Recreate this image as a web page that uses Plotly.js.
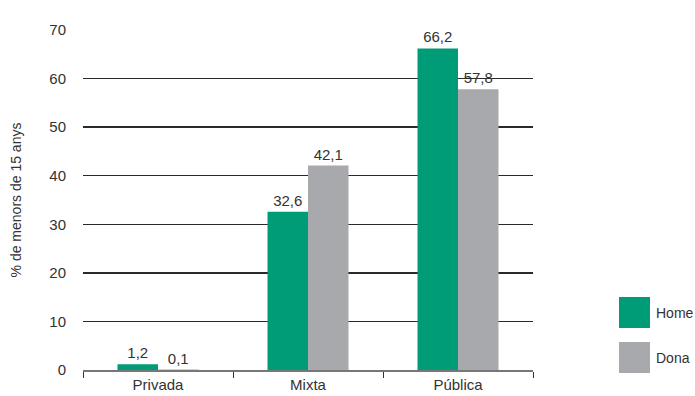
<!DOCTYPE html>
<html><head><meta charset="utf-8">
<script src="https://cdn.plot.ly/plotly-3.0.1.min.js"></script>
<style>body{margin:0;background:#fff}#c{width:695px;height:396px}</style>
</head><body><div id="c"></div>
<script>
var categories = ["Privada", "Mixta", "Pública"];
var homeValues = [1.2, 32.6, 66.2];
var donaValues = [0.1, 42.1, 57.8];
var seriesNames = ["Home", "Dona"];
var seriesColors = ["#009B77", "#A7A9AC"];
var yTicks = [0, 10, 20, 30, 40, 50, 60, 70];

var font = {family: "Liberation Sans, Arial, sans-serif", size: 15, color: "#333"};

function barTrace(name, vals, color) {
  return {
    type: "bar", name: name, x: categories, y: vals,
    marker: {color: color},
    text: vals, texttemplate: "%{y:.1f}", textposition: "outside",
    textfont: {family: font.family, size: 15, color: "#333"},
    cliponaxis: false, hoverinfo: "skip"
  };
}

var data = [
  barTrace(seriesNames[0], homeValues, seriesColors[0]),
  barTrace(seriesNames[1], donaValues, seriesColors[1])
];

var shapes = [], annotations = [];
seriesNames.forEach(function(n, i){
  var y0 = 297 + i*45;
  shapes.push({type:"rect", xref:"paper", yref:"paper",
    x0:(619-83)/450, x1:(650-83)/450,
    y0:(370-(y0+31))/340, y1:(370-y0)/340,
    fillcolor: seriesColors[i], line:{width:0}});
  annotations.push({xref:"paper", yref:"paper", x:(654-83)/450, y:(370-(y0+15.5))/340,
    text:n, showarrow:false, xanchor:"left", yanchor:"middle", font:{family:font.family,size:14,color:"#333"}});
});

var layout = {
  width: 695, height: 396,
  margin: {l: 83, r: 162, t: 30, b: 26},
  paper_bgcolor: "#fff", plot_bgcolor: "#fff",
  separators: ",.",
  font: font,
  showlegend: false,
  barmode: "group", bargap: 0.46, bargroupgap: 0,
  xaxis: {
    type: "category", showgrid: false, showline: true, linecolor: "#777", linewidth: 1.5,
    ticks: "outside", tickson: "boundaries", ticklen: 6, tickcolor: "#333", tickwidth: 1,
    tickfont: font, fixedrange: true
  },
  yaxis: {
    range: [0, 70], tickvals: yTicks, showgrid: true, gridcolor: "#2a2a2a", gridwidth: 1.4,
    zeroline: false, showline: false, ticks: "", ticklabelstandoff: 16,
    tickfont: font,
    title: {text: "% de menors de 15 anys", font: {family: font.family, size: 14, color: "#333"}, standoff: 24}
  },
  shapes: shapes, annotations: annotations
};

Plotly.newPlot("c", data, layout, {staticPlot: true, displayModeBar: false});
</script></body></html>
